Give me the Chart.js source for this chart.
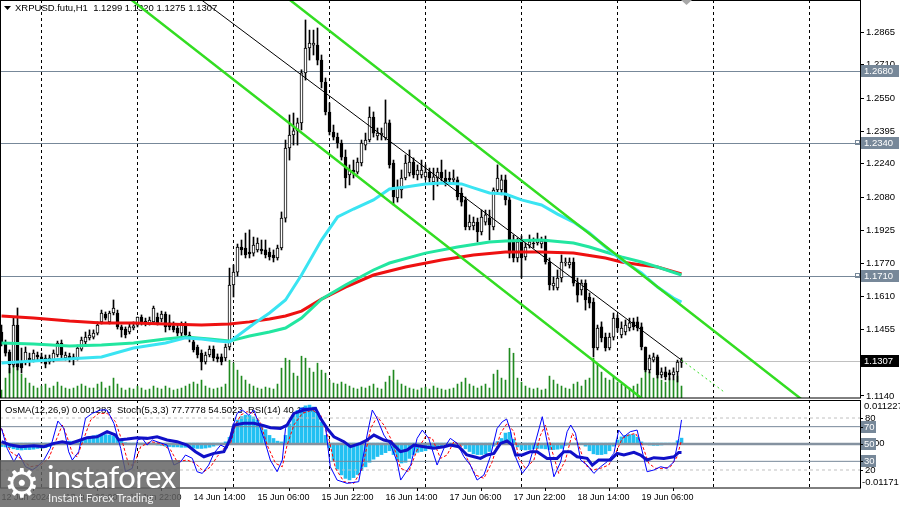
<!DOCTYPE html>
<html><head><meta charset="utf-8">
<script src="https://cdn.jsdelivr.net/npm/chart.js@4.4.1/dist/chart.umd.min.js"></script>
<style>
html,body{margin:0;padding:0;background:#fff;width:900px;height:507px;overflow:hidden;position:relative}
#main{position:absolute;left:0;top:0}
#osc{position:absolute;left:0;top:400px}
#wm{position:absolute;left:0;top:460px;width:180px;height:47px;background:rgba(98,98,98,0.84);overflow:hidden}
#wm .ico{position:absolute;left:4px;top:2px;font:40px 'DejaVu Sans';color:#fff;line-height:42px}
#wm .t1{position:absolute;left:47px;top:-1px;font:31px Lato, 'Open Sans', sans-serif;color:#fff;line-height:34px;letter-spacing:-0.6px}
#wm .t2{position:absolute;left:48px;top:31px;font:11.5px Lato, 'Open Sans', sans-serif;color:#f0f0f0;line-height:13px}
</style></head>
<body>
<canvas id="main" width="900" height="400"></canvas>
<canvas id="osc" width="900" height="107"></canvas>
<div id="wm"><div class="ico">⚙</div><div class="t1">instaforex</div><div class="t2">Instant Forex Trading</div></div>
<script>
const FONT = "'Liberation Sans', Arial, sans-serif";
Chart.defaults.font.family = FONT;
Chart.defaults.color = '#000';

// ---------- DATA ----------
const symbolTitle = 'XRPUSD.futu,H1  1.1299 1.1320 1.1275 1.1307';
const oscTitle = 'OsMA(12,26,9) 0.001283  Stoch(5,3,3) 77.7778 54.5023  RSI(14) 40.1898';
const dateLabels = ['12 Jun 2024','13 Jun 06:00','13 Jun 22:00','14 Jun 14:00','15 Jun 06:00','15 Jun 22:00','16 Jun 14:00','17 Jun 06:00','17 Jun 22:00','18 Jun 14:00','19 Jun 06:00'];
const dateLabelBars = [0,16,32,48,64,80,96,112,128,144,160];
const dayLineBars = [10,34,58,82,106,130,154,178,202];
const priceTicks = [1.2865,1.2710,1.2550,1.2395,1.2240,1.2080,1.1925,1.1770,1.1610,1.1455,1.1140];
const markedLevels = [1.2680,1.2340,1.1710];
const lastPrice = 1.1307;

// [open, high, low, close] per hourly bar
const candles = [
[1.1443,1.1476,1.1377,1.1391],[1.1391,1.1405,1.1329,1.1343],[1.1348,1.1358,1.1249,1.1287],[1.1287,1.1509,1.1277,1.1476],
[1.1476,1.1557,1.1263,1.1277],[1.1301,1.1367,1.1249,1.1273],[1.1301,1.1372,1.1287,1.1348],[1.1320,1.1343,1.1282,1.1306],
[1.1310,1.1358,1.1301,1.1343],[1.1334,1.1348,1.1310,1.1325],[1.1325,1.1343,1.1296,1.1310],[1.1320,1.1334,1.1273,1.1291],
[1.1301,1.1334,1.1291,1.1320],[1.1310,1.1358,1.1301,1.1343],[1.1334,1.1400,1.1325,1.1391],[1.1391,1.1405,1.1320,1.1334],
[1.1320,1.1348,1.1310,1.1334],[1.1329,1.1343,1.1301,1.1320],[1.1325,1.1339,1.1287,1.1315],[1.1320,1.1381,1.1310,1.1367],
[1.1362,1.1419,1.1353,1.1405],[1.1396,1.1443,1.1386,1.1419],[1.1415,1.1453,1.1405,1.1429],[1.1419,1.1453,1.1410,1.1438],
[1.1438,1.1491,1.1429,1.1476],[1.1491,1.1547,1.1481,1.1533],[1.1528,1.1538,1.1500,1.1509],[1.1491,1.1542,1.1481,1.1533],
[1.1533,1.1595,1.1524,1.1557],[1.1533,1.1547,1.1457,1.1467],[1.1467,1.1476,1.1419,1.1453],[1.1457,1.1467,1.1415,1.1429],
[1.1443,1.1486,1.1434,1.1467],[1.1462,1.1491,1.1453,1.1472],[1.1476,1.1514,1.1467,1.1514],[1.1514,1.1524,1.1476,1.1486],
[1.1495,1.1509,1.1472,1.1486],[1.1486,1.1514,1.1476,1.1500],[1.1491,1.1566,1.1481,1.1557],[1.1514,1.1533,1.1476,1.1486],
[1.1505,1.1542,1.1491,1.1528],[1.1528,1.1538,1.1443,1.1467],[1.1486,1.1524,1.1453,1.1467],[1.1472,1.1491,1.1443,1.1453],
[1.1462,1.1476,1.1424,1.1438],[1.1438,1.1491,1.1424,1.1476],[1.1476,1.1491,1.1415,1.1429],[1.1429,1.1443,1.1396,1.1415],
[1.1396,1.1410,1.1348,1.1358],[1.1372,1.1381,1.1320,1.1334],[1.1343,1.1358,1.1263,1.1301],[1.1301,1.1348,1.1291,1.1334],
[1.1334,1.1377,1.1325,1.1362],[1.1362,1.1377,1.1306,1.1320],[1.1325,1.1339,1.1301,1.1315],[1.1325,1.1339,1.1287,1.1301],
[1.1320,1.1386,1.1306,1.1372],[1.1372,1.1746,1.1358,1.1666],[1.1666,1.1761,1.1609,1.1727],[1.1727,1.1860,1.1708,1.1846],
[1.1846,1.1879,1.1808,1.1832],[1.1841,1.1912,1.1794,1.1808],[1.1822,1.1927,1.1794,1.1813],[1.1817,1.1893,1.1803,1.1855],
[1.1832,1.1889,1.1822,1.1865],[1.1836,1.1879,1.1813,1.1827],[1.1832,1.1879,1.1794,1.1808],[1.1822,1.1841,1.1784,1.1799],
[1.1808,1.1832,1.1775,1.1794],[1.1794,1.1855,1.1784,1.1841],[1.1841,1.2012,1.1832,1.1983],[1.1983,1.2353,1.1964,1.2315],
[1.2315,1.2472,1.2258,1.2377],[1.2377,1.2481,1.2329,1.2396],[1.2396,1.2457,1.2329,1.2434],[1.2434,1.2686,1.2401,1.2671],
[1.2671,1.2922,1.2637,1.2789],[1.2789,1.2874,1.2732,1.2813],[1.2803,1.2874,1.2756,1.2813],[1.2803,1.2884,1.2709,1.2732],
[1.2732,1.2756,1.2600,1.2628],[1.2628,1.2647,1.2472,1.2486],[1.2486,1.2529,1.2377,1.2391],[1.2391,1.2424,1.2353,1.2367],
[1.2367,1.2386,1.2315,1.2339],[1.2339,1.2353,1.2258,1.2272],[1.2272,1.2306,1.2126,1.2173],[1.2187,1.2235,1.2140,1.2211],
[1.2211,1.2258,1.2173,1.2201],[1.2201,1.2268,1.2192,1.2249],[1.2244,1.2353,1.2230,1.2339],[1.2329,1.2386,1.2306,1.2353],
[1.2353,1.2510,1.2344,1.2462],[1.2462,1.2486,1.2367,1.2386],[1.2372,1.2410,1.2353,1.2386],[1.2377,1.2410,1.2353,1.2386],
[1.2363,1.2543,1.2353,1.2434],[1.2434,1.2448,1.2220,1.2235],[1.2244,1.2258,1.2045,1.2083],[1.2078,1.2164,1.2059,1.2126],
[1.2116,1.2211,1.2078,1.2173],[1.2173,1.2282,1.2164,1.2244],[1.2197,1.2306,1.2182,1.2249],[1.2249,1.2268,1.2173,1.2187],
[1.2187,1.2235,1.2164,1.2211],[1.2187,1.2258,1.2173,1.2211],[1.2178,1.2235,1.2164,1.2201],[1.2201,1.2220,1.2154,1.2173],
[1.2154,1.2220,1.2069,1.2178],[1.2173,1.2220,1.2135,1.2201],[1.2201,1.2258,1.2159,1.2173],[1.2173,1.2211,1.2135,1.2149],
[1.2173,1.2201,1.2149,1.2164],[1.2164,1.2211,1.2149,1.2173],[1.2164,1.2178,1.2069,1.2083],[1.2102,1.2126,1.2040,1.2059],
[1.2069,1.2083,1.1927,1.1941],[1.1941,1.1998,1.1927,1.1964],[1.1946,1.1988,1.1927,1.1964],[1.1964,1.1983,1.1870,1.1917],
[1.1917,1.2021,1.1903,1.1988],[1.1964,1.2021,1.1950,1.1998],[1.1983,1.2021,1.1879,1.1950],[1.1941,1.2126,1.1927,1.2116],
[1.2116,1.2235,1.2102,1.2173],[1.2116,1.2187,1.2093,1.2164],[1.2164,1.2187,1.2045,1.2069],[1.2069,1.2088,1.1794,1.1817],
[1.1879,1.1903,1.1775,1.1794],[1.1794,1.1889,1.1775,1.1870],[1.1879,1.1898,1.1699,1.1794],[1.1799,1.1865,1.1784,1.1846],
[1.1855,1.1903,1.1841,1.1870],[1.1865,1.1889,1.1841,1.1860],[1.1865,1.1912,1.1855,1.1879],[1.1860,1.1893,1.1841,1.1874],
[1.1879,1.1898,1.1765,1.1775],[1.1775,1.1794,1.1642,1.1666],[1.1661,1.1704,1.1642,1.1675],[1.1652,1.1737,1.1642,1.1699],
[1.1699,1.1808,1.1680,1.1775],[1.1770,1.1794,1.1756,1.1775],[1.1761,1.1794,1.1746,1.1775],[1.1775,1.1794,1.1661,1.1675],
[1.1675,1.1699,1.1585,1.1618],[1.1642,1.1690,1.1618,1.1675],[1.1675,1.1690,1.1547,1.1595],[1.1609,1.1628,1.1557,1.1580],
[1.1585,1.1604,1.1325,1.1367],[1.1367,1.1476,1.1358,1.1462],[1.1467,1.1491,1.1396,1.1415],[1.1419,1.1438,1.1353,1.1367],
[1.1367,1.1438,1.1358,1.1419],[1.1419,1.1533,1.1405,1.1509],[1.1509,1.1524,1.1443,1.1462],[1.1429,1.1491,1.1415,1.1462],
[1.1443,1.1500,1.1429,1.1476],[1.1462,1.1509,1.1448,1.1486],[1.1491,1.1509,1.1453,1.1467],[1.1491,1.1514,1.1448,1.1462],
[1.1467,1.1486,1.1358,1.1372],[1.1372,1.1372,1.1254,1.1263],[1.1263,1.1334,1.1249,1.1320],[1.1310,1.1343,1.1301,1.1325],
[1.1325,1.1334,1.1225,1.1240],[1.1240,1.1273,1.1225,1.1254],[1.1254,1.1277,1.1216,1.1230],[1.1249,1.1263,1.1216,1.1240],
[1.1240,1.1273,1.1216,1.1254],[1.1254,1.1310,1.1206,1.1301],[1.1299,1.1320,1.1275,1.1307]
];

const volumes = [
8,20,30,34,33,24,20,15,12,10, 12,14,10,12,16,12,10,9,10,12, 14,12,10,10,14,16,10,12,20,14,
10,8,10,9,12,10,8,9,12,10, 9,12,10,8,9,10,12,14,16,14, 18,12,10,9,10,11,14,38,35,28,
22,18,14,12,10,9,11,10,9,14, 30,40,38,25,22,42,40,30,26,35, 28,25,18,15,14,16,14,12,10,9,
11,10,12,14,10,9,16,22,28,18, 14,12,10,9,8,10,11,9,12,10, 9,8,9,10,14,16,20,14,12,10,
12,14,10,24,28,20,18,50,45,20, 16,12,10,9,10,8,9,22,18,14, 12,10,9,14,16,12,18,20,40,34,
26,20,18,22,16,14,12,10,12,14, 20,32,26,20,24,18,16,20,18,22,12
];

// moving averages read at bar positions [bar, price]
const maFast = [[0,1.1296],[12,1.1310],[25,1.1325],[33,1.1367],[41,1.1391],[46,1.1415],[50,1.1410],[54,1.1400],[57,1.1396],[63,1.1481],[67,1.1533],[71,1.1595],[75,1.1713],[80,1.1879],[84,1.1988],[88,1.2026],[93,1.2069],[97,1.2121],[101,1.2130],[106,1.2145],[110,1.2149],[115,1.2145],[118,1.2126],[122,1.2102],[126,1.2097],[130,1.2069],[135,1.2045],[139,1.2002],[143,1.1964],[147,1.1912],[151,1.1846],[155,1.1784],[160,1.1723],[164,1.1656],[168,1.1604],[170,1.1585]];
const maMid = [[0,1.1391],[8,1.1386],[17,1.1377],[25,1.1381],[33,1.1391],[41,1.1410],[46,1.1419],[52,1.1410],[57,1.1400],[62,1.1424],[67,1.1443],[71,1.1462],[75,1.1509],[80,1.1599],[86,1.1666],[93,1.1737],[97,1.1770],[106,1.1817],[114,1.1846],[122,1.1870],[126,1.1874],[135,1.1879],[143,1.1865],[147,1.1846],[151,1.1822],[155,1.1799],[160,1.1775],[164,1.1751],[170,1.1713]];
const maSlow = [[0,1.1519],[8,1.1509],[17,1.1495],[25,1.1486],[33,1.1486],[41,1.1481],[50,1.1476],[57,1.1481],[62,1.1491],[67,1.1505],[71,1.1519],[75,1.1542],[80,1.1599],[86,1.1656],[93,1.1713],[101,1.1751],[110,1.1784],[118,1.1808],[126,1.1822],[135,1.1822],[143,1.1817],[151,1.1794],[155,1.1775],[160,1.1761],[164,1.1751],[170,1.1718]];
const channelUpper = [[60,1.3196],[214,1.0917]];
const channelLower = [[20,1.3202],[214,1.0330]];
const trendMid = [[50,1.3017],[170,1.1310]];
const trendMidExt = [[170,1.1310],[181,1.1154]];

const osma = [
-0.0009,-0.0010,-0.0012,-0.0015,-0.0017,-0.0018,-0.0017,-0.0017,-0.0016,-0.0014,
-0.0013,-0.0012,-0.0009,-0.0005,-0.0002,0.0002,0.0004,0.0005,0.0005,0.0006,
0.0010,0.0013,0.0016,0.0019,0.0021,0.0022,0.0022,0.0021,0.0018,0.0012,
0.0005,0.0001,-0.0002,-0.0003,-0.0004,-0.0004,-0.0004,-0.0003,-0.0004,-0.0005,
-0.0006,-0.0008,-0.0009,-0.0010,-0.0010,-0.0011,-0.0011,-0.0012,-0.0013,-0.0014,
-0.0014,-0.0013,-0.0011,-0.0008,-0.0005,-0.0002,0.0003,0.0015,0.0043,0.0060,
0.0069,0.0073,0.0072,0.0068,0.0060,0.0045,0.0035,0.0020,0.0012,0.0005,
0.0003,0.0020,0.0050,0.0072,0.0085,0.0092,0.0097,0.0099,0.0094,0.0080,
0.0055,0.0020,-0.0012,-0.0045,-0.0068,-0.0083,-0.0092,-0.0096,-0.0090,-0.0082,
-0.0072,-0.0062,-0.0050,-0.0042,-0.0035,-0.0030,-0.0025,-0.0020,-0.0030,-0.0045,
-0.0052,-0.0050,-0.0040,-0.0030,-0.0024,-0.0022,-0.0020,-0.0015,-0.0013,-0.0013,
-0.0012,-0.0010,-0.0005,-0.0004,-0.0004,-0.0006,-0.0015,-0.0022,-0.0028,-0.0030,
-0.0030,-0.0028,-0.0022,-0.0008,0.0004,0.0012,0.0026,0.0028,0.0010,-0.0010,
-0.0017,-0.0018,-0.0017,-0.0015,-0.0014,-0.0014,-0.0015,-0.0017,-0.0017,-0.0016,
-0.0014,-0.0006,-0.0002,0.0000,-0.0001,-0.0003,-0.0008,-0.0020,-0.0028,-0.0030,
-0.0030,-0.0028,-0.0020,-0.0008,0.0008,0.0016,0.0020,0.0022,0.0022,0.0015,
0.0003,-0.0002,-0.0005,-0.0006,-0.0006,-0.0005,-0.0004,-0.0002,0.0000,0.0006,0.001283
];
const stochMain = [[0,68],[1.4,45],[3.1,29.5],[4.3,39.2],[6,23.8],[7.7,20],[8.9,23.8],[10.6,31.5],[12.2,45],[14.1,76.5],[15.6,68],[16.8,41],[17.7,31.5],[19.3,41],[21,79.6],[22.7,85.4],[24.8,89.2],[26.4,89.2],[28.1,73.8],[29.8,45],[31,18],[32.7,21.9],[34,54.6],[35.2,56.5],[36.4,48.8],[37.7,54.6],[38.9,52.6],[41.4,48.8],[43.1,25.7],[44.8,29.5],[46,37.3],[47.7,33.5],[48.9,18],[50.2,16.1],[51.8,25.7],[53.1,39.2],[54.8,48.8],[56.4,45],[57.7,68],[58.9,85.4],[60.2,89.2],[61.8,83.4],[63.1,89.2],[65.6,56.5],[67.2,31.5],[68.9,18],[70.2,31.5],[71,68],[72.2,79.6],[74.8,91.2],[77.2,91.2],[78.9,89.2],[81,69.9],[82.2,23.8],[83.9,8.4],[86.4,4.6],[89.3,6.5],[91.4,60.3],[92.7,89.2],[93.9,79.6],[95.6,60.3],[97.3,48.8],[98.9,29.5],[99.8,8.4],[102.3,25.7],[103.9,56.5],[105.2,66.1],[106.8,56.5],[108.9,25.7],[110.6,45],[112.2,56.5],[113.9,50.8],[115.6,35.3],[117.2,25.7],[118.9,8.4],[120.6,14.2],[122.2,35.3],[123.9,68],[125.2,75.7],[126.3,78.8],[127.2,66.1],[128.5,35.3],[130.2,16.1],[131.8,25.7],[133.5,52.6],[135.2,81.5],[136.4,52.6],[138.1,12.2],[139.8,29.5],[141.4,64.2],[142.3,71.9],[143.5,62.3],[144.8,31.5],[146.4,25.7],[148.1,16.1],[149.8,23.8],[151.4,29.5],[153.1,39.2],[154.3,66.1],[155.6,58.4],[157.2,64.2],[158.9,66.1],[160.6,33.5],[161.4,18],[163.1,20],[164.8,23.8],[166.4,21.9],[168.1,29.5],[169.3,56.5],[170,77.78]];
const stochSignal = [[0,68],[2.25,41.1],[4.75,33.4],[7.25,23.8],[9.75,25.7],[11.8,33.4],[13.5,52.7],[15.2,71.9],[16.4,58.4],[17.7,39.2],[18.9,35.3],[20.6,56.5],[22.3,77.7],[24.3,85.3],[26.4,85.3],[28.5,75.7],[30.2,52.7],[31.8,25.7],[33.1,25.7],[34.8,46.9],[37.3,52.7],[39.8,50.7],[42.3,43],[43.9,29.6],[46.4,31.5],[48.5,27.7],[50.6,18],[52.3,23.8],[53.9,35.3],[55.6,45],[57.3,50.7],[58.5,71.9],[59.8,83.4],[61.4,87.3],[63.1,85.3],[64.8,73.8],[66.4,48.8],[68.5,27.7],[70.2,23.8],[71.4,48.8],[73.1,71.9],[75.2,85.3],[77.7,89.2],[79.8,83.4],[81.8,56.5],[83.5,21.9],[85.6,6.5],[88.1,4.6],[90.2,21.9],[92.3,68],[93.9,81.5],[95.6,71.9],[97.7,52.7],[99.75,22],[101.8,18],[103.9,43],[106,58.4],[107.7,56.5],[109.75,33.4],[111.4,37.3],[113.1,52.7],[114.75,48.8],[116.4,33.4],[118.5,14.2],[120.6,10.4],[122.7,29.6],[124.75,62.3],[126.4,73.8],[128.1,64.2],[129.3,33.4],[131,21.9],[133.1,31.5],[134.75,60.3],[136,71.9],[137.7,41.1],[139.3,16.1],[141,31.5],[142.7,62.3],[144.3,48.8],[146,25.7],[147.7,20],[149.75,21.9],[151.8,25.7],[153.5,39.2],[155.2,56.5],[156.8,60.3],[158.5,62.3],[160.2,48.8],[161.8,27.7],[163.5,21.9],[165.6,21.9],[167.25,23.8],[168.9,35.3],[170,54.5023]];
const rsi = [[0,52.7],[2.25,48.8],[4.75,46.9],[8.1,48],[10.6,46.9],[13.1,50.7],[15.2,52.7],[17.25,50.7],[19.75,54.6],[21.4,57.3],[23.9,58.4],[26.4,64.2],[28.5,60.3],[29.3,54.6],[31.4,55.7],[33.9,57.3],[36.4,56.5],[38.9,58.4],[41.4,54.6],[43.9,52.7],[46.4,48.8],[48.5,41.1],[50.6,35.3],[53.1,39.2],[55.6,41.1],[57.25,56.5],[58.1,71.9],[60.6,73.8],[63.1,73.8],[65.6,71.1],[67.25,68.8],[69.75,68],[71.4,71.9],[73.1,85.3],[75.6,89.2],[78.5,91.1],[79.75,79.6],[81.4,68],[83.1,58.4],[85.6,52.7],[87.25,46.9],[89.75,50.7],[91.4,54.6],[93.1,60.3],[95.6,54.6],[97.25,52.7],[98.9,45],[99.75,41.1],[101.4,43],[103.1,48.8],[105.6,46.9],[108.1,45],[110.6,46.9],[112.25,48.8],[114.3,46.9],[116.4,37.3],[118.1,35.3],[119.75,33.4],[121.4,37.3],[123.1,39.2],[124.75,50.7],[126.4,53.4],[127.7,48.8],[128.5,37.3],[130.2,37.3],[132.25,41.1],[133.9,41.1],[136.4,33.4],[138.9,33.4],[140.6,41.1],[142.25,41.1],[143.9,35.3],[146.4,33.4],[147.7,25.7],[149.3,31.5],[152.25,31.5],[153.9,39.2],[155.6,37.3],[158.1,40.3],[159.75,37.3],[161.4,31.5],[163.1,34.2],[165.6,33.4],[168.1,35.3],[169.3,40.3],[170,40.1898]];
const oscLevels = [80,70,50,30,20];

// ---------- helpers ----------
const X_MIN = -0.375, X_MAX = 214.625;
const pts = arr => arr.map(([x, y]) => ({x, y}));

const dayLinesPlugin = {
  id: 'dayLines',
  beforeDatasetsDraw(chart) {
    const {ctx, chartArea: a, scales: {x}} = chart;
    ctx.save();
    ctx.strokeStyle = '#000'; ctx.lineWidth = 1; ctx.setLineDash([3, 3]);
    dayLineBars.forEach(k => {
      const px = Math.floor(x.getPixelForValue(k)) + 0.5;
      ctx.beginPath(); ctx.moveTo(px, a.top); ctx.lineTo(px, a.bottom); ctx.stroke();
    });
    ctx.restore();
  }
};

function box(ctx, x, yc, w, bg, text) {
  ctx.fillStyle = bg;
  ctx.fillRect(x, yc - 6, w, 12);
  ctx.fillStyle = '#fff';
  ctx.textAlign = 'left'; ctx.textBaseline = 'middle';
  ctx.fillText(text, x + 3, yc + 0.5);
}

const mainDeco = {
  id: 'mainDeco',
  beforeDatasetsDraw(chart) {
    const {ctx, chartArea: a, scales: {y}} = chart;
    ctx.save();
    ctx.lineWidth = 1;
    markedLevels.forEach(v => {
      const py = Math.round(y.getPixelForValue(v)) + 0.5;
      ctx.strokeStyle = '#778899';
      ctx.beginPath(); ctx.moveTo(a.left, py); ctx.lineTo(a.right, py); ctx.stroke();
    });
    const pl = Math.round(y.getPixelForValue(lastPrice)) + 0.5;
    ctx.strokeStyle = '#c0c0c0';
    ctx.beginPath(); ctx.moveTo(a.left, pl); ctx.lineTo(a.right, pl); ctx.stroke();
    ctx.fillStyle = '#000';
    ctx.beginPath(); ctx.moveTo(4, 6); ctx.lineTo(11, 6); ctx.lineTo(7.5, 10); ctx.closePath(); ctx.fill();
    ctx.font = '9.5px ' + FONT; ctx.textBaseline = 'middle'; ctx.textAlign = 'left';
    ctx.fillText(symbolTitle, 15, 8.5);
    ctx.restore();
  },
  afterDraw(chart) {
    const {ctx, chartArea: a, scales: {y}} = chart;
    ctx.save();
    ctx.strokeStyle = '#000'; ctx.lineWidth = 1;
    ctx.strokeRect(0.5, 0.5, a.right, a.bottom - 0.5);
    ctx.font = '9.5px ' + FONT;
    markedLevels.forEach((v, i) => {
      const py = Math.round(y.getPixelForValue(v));
      box(ctx, 861, py, 38, '#778899', v.toFixed(4));
      if (i > 0) { ctx.strokeStyle = '#778899'; ctx.strokeRect(855.5, py - 2.5, 4, 4); }
    });
    const pl = Math.round(y.getPixelForValue(lastPrice));
    box(ctx, 861, pl, 38, '#000', lastPrice.toFixed(4));
    ctx.fillStyle = '#a8a8a8';
    ctx.beginPath(); ctx.moveTo(681, 0); ctx.lineTo(692, 0); ctx.lineTo(686.5, 5); ctx.closePath(); ctx.fill();
    ctx.restore();
  }
};

const oscDeco = {
  id: 'oscDeco',
  beforeDatasetsDraw(chart) {
    const {ctx} = chart;
    ctx.save();
    ctx.fillStyle = '#000'; ctx.font = '9.5px ' + FONT;
    ctx.textBaseline = 'middle'; ctx.textAlign = 'left';
    ctx.fillText(oscTitle, 5, 10.5);
    ctx.restore();
  },
  afterDraw(chart) {
    const {ctx, chartArea: a, scales: {y, yo}} = chart;
    ctx.save();
    ctx.strokeStyle = '#000'; ctx.lineWidth = 1;
    ctx.strokeRect(0.5, 0.5, a.right, a.bottom - 0.5);
    ctx.font = '9.5px ' + FONT; ctx.fillStyle = '#000';
    ctx.textAlign = 'left';
    ctx.textBaseline = 'top';
    ctx.fillText(yo.max.toFixed(6), 864, 2);
    ctx.textBaseline = 'bottom';
    ctx.fillText(yo.min.toFixed(5), 862, a.bottom - 1);
    ctx.textBaseline = 'middle';
    [80, 20].forEach(v => ctx.fillText(String(v), 865, Math.round(y.getPixelForValue(v)) + 0.5));
    ctx.fillText('0.00', 866, Math.round(yo.getPixelForValue(0)) + 0.5);
    [70, 50, 30].forEach(v => box(ctx, 861, Math.round(y.getPixelForValue(v)), 15, '#778899', String(v)));
    ctx.strokeStyle = '#000';
    oscLevels.forEach(v => {
      const py = Math.round(y.getPixelForValue(v)) + 0.5;
      ctx.beginPath(); ctx.moveTo(a.right, py); ctx.lineTo(a.right + 3, py); ctx.stroke();
    });
    ctx.restore();
  }
};

// ---------- main chart ----------
const bodyColors = candles.map(c => c[3] >= c[0] ? '#ffffff' : '#000000');
const P = {xAxisID: 'x', yAxisID: 'y'};
new Chart(document.getElementById('main'), {
  type: 'bar',
  data: {
    datasets: [
      {type: 'bar', label: 'vol', xAxisID: 'x', yAxisID: 'yv', data: volumes.map((v, i) => ({x: i, y: v})),
        backgroundColor: '#1f8a1f', barThickness: 1, grouped: false, order: 30},
      {...P, type: 'bar', label: 'wick', data: candles.map((c, i) => ({x: i, y: [c[2], c[1]]})),
        backgroundColor: '#000', barThickness: 1, grouped: false, order: 20},
      {...P, type: 'bar', label: 'body', data: candles.map((c, i) => ({x: i, y: [c[0], c[3]]})),
        backgroundColor: bodyColors, borderColor: '#000', borderWidth: 1, borderSkipped: false,
        minBarLength: 1, barThickness: 3, grouped: false, order: 19},
      {...P, type: 'line', label: 'ma200', data: pts(maSlow), borderColor: '#ee1111', borderWidth: 3, pointRadius: 0, order: 9},
      {...P, type: 'line', label: 'ma100', data: pts(maMid), borderColor: '#22e6a0', borderWidth: 3, pointRadius: 0, order: 8},
      {...P, type: 'line', label: 'ma50', data: pts(maFast), borderColor: '#3ae4f2', borderWidth: 3, pointRadius: 0, order: 7},
      {...P, type: 'line', label: 'chU', data: pts(channelUpper), borderColor: '#33dd22', borderWidth: 2.5, pointRadius: 0, order: 3},
      {...P, type: 'line', label: 'chL', data: pts(channelLower), borderColor: '#33dd22', borderWidth: 2.5, pointRadius: 0, order: 3},
      {...P, type: 'line', label: 'mid', data: pts(trendMid), borderColor: '#000', borderWidth: 1, pointRadius: 0, order: 2},
      {...P, type: 'line', label: 'midx', data: pts(trendMidExt), borderColor: '#33dd22', borderWidth: 1, borderDash: [2, 3], pointRadius: 0, order: 2}
    ]
  },
  options: {
    responsive: false, animation: false, events: [],
    layout: {padding: {left: 0, top: 0, right: 0, bottom: 2}},
    plugins: {legend: {display: false}, tooltip: {enabled: false}},
    scales: {
      x: {type: 'linear', display: false, min: X_MIN, max: X_MAX, offset: false},
      y: {
        type: 'linear', position: 'right', min: 1.11302, max: 1.30167,
        afterBuildTicks: s => { s.ticks = priceTicks.map(v => ({value: v})); },
        afterFit: s => { s.width = 40; s.paddingTop = 0; s.paddingBottom = 0; },
        ticks: {autoSkip: false, padding: 2, color: '#000', font: {size: 9.5}, callback: v => Number(v).toFixed(4)},
        grid: {drawOnChartArea: false, drawTicks: true, tickLength: 4, color: '#000'},
        border: {display: false}
      },
      yv: {type: 'linear', display: false, min: 0, max: 400}
    }
  },
  plugins: [dayLinesPlugin, mainDeco]
});

// ---------- oscillator ----------
const levelDs = (v, color, width, dash, order) => ({
  type: 'line', xAxisID: 'x', yAxisID: 'y', data: [{x: X_MIN, y: v}, {x: X_MAX, y: v}],
  borderColor: color, borderWidth: width, borderDash: dash, pointRadius: 0, order
});
new Chart(document.getElementById('osc'), {
  type: 'bar',
  data: {
    datasets: [
      {type: 'bar', label: 'OsMA', xAxisID: 'x', yAxisID: 'yo', data: osma.map((v, i) => ({x: i, y: v})),
        backgroundColor: '#22c0f2', barThickness: 3, grouped: false, order: 30},
      levelDs(80, '#c0c0c0', 1, [3, 3], 10),
      levelDs(20, '#c0c0c0', 1, [3, 3], 10),
      levelDs(70, '#778899', 1, [], 10),
      levelDs(30, '#778899', 1, [], 10),
      levelDs(50, '#8592a0', 2.5, [], 10),
      {...P, type: 'line', label: 'signal', data: pts(stochSignal), borderColor: '#ff0000', borderWidth: 1, borderDash: [3, 2], pointRadius: 0, order: 4},
      {...P, type: 'line', label: 'stoch', data: pts(stochMain), borderColor: '#0000ff', borderWidth: 1, pointRadius: 0, order: 3},
      {...P, type: 'line', label: 'rsi', data: pts(rsi), borderColor: '#1010c8', borderWidth: 3, pointRadius: 0, order: 2}
    ]
  },
  options: {
    responsive: false, animation: false, events: [],
    layout: {padding: {left: 0, top: 0, right: 40, bottom: 0}},
    plugins: {legend: {display: false}, tooltip: {enabled: false}},
    scales: {
      x: {
        type: 'linear', min: X_MIN, max: X_MAX, offset: false, position: 'bottom',
        afterBuildTicks: s => { s.ticks = dateLabelBars.map(v => ({value: v})); },
        afterFit: s => { s.height = 19; s.paddingLeft = 0; s.paddingRight = 0; },
        ticks: {autoSkip: false, maxRotation: 0, minRotation: 0, align: 'start', padding: 1, color: '#000',
          font: {size: 9}, callback: (v, i) => dateLabels[i]},
        grid: {drawOnChartArea: false, drawTicks: true, tickLength: 3, color: '#000'},
        border: {display: false}
      },
      y: {type: 'linear', display: false, min: -0.77, max: 100.77},
      yo: {type: 'linear', display: false, min: -0.01171, max: 0.011227}
    }
  },
  plugins: [dayLinesPlugin, oscDeco]
});
</script>
</body></html>
